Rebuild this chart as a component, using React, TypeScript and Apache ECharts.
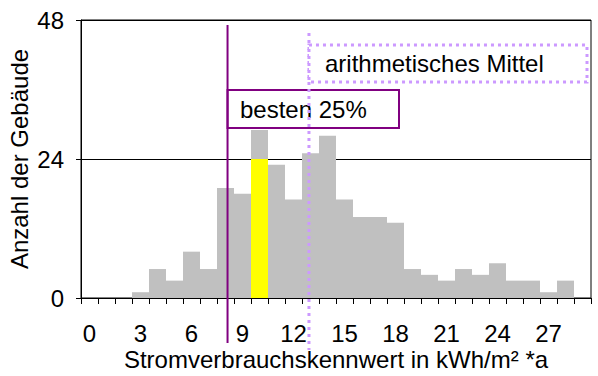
import React, { useEffect, useRef } from "react";
import * as echarts from "echarts";

const categories = ["0","1","2","3","4","5","6","7","8","9","10","11","12","13","14","15","16","17","18","19","20","21","22","23","24","25","26","27","28","29"];
const buildingCounts = [0,0,0,1,5,3,8,5,19,18,29,23,17,25,28,17,14,14,13,5,4,3,5,4,6,3,3,1,3,0];
const highlightCounts = [null,null,null,null,null,null,null,null,null,null,24,null,null,null,null,null,null,null,null,null,null,null,null,null,null,null,null,null,null,null];
const yTicks = [0, 24, 48];
const best25Limit = 8.12;
const meanValue = 12.91;
const best25Label = "besten 25%";
const meanLabel = "arithmetisches Mittel";
const xAxisTitle = "Stromverbrauchskennwert in kWh/m² *a";
const yAxisTitle = "Anzahl der Gebäude";

const FONT = "'Liberation Sans', Arial, Helvetica, sans-serif";
const PURPLE = "#800080";
const LAVENDER = "#CC99FF";
const FS = 24;

export default function App() {
  const ref = useRef<HTMLDivElement>(null);
  useEffect(() => {
    if (!ref.current) return;
    const chart = echarts.init(ref.current, null, { renderer: "svg" });
    chart.setOption({
      animation: false,
      backgroundColor: "#fff",
      textStyle: { fontFamily: FONT },
      grid: {
        left: 81, right: 7, top: 20, bottom: 78,
        containLabel: false,
        outerBoundsMode: "none",
        show: true, borderColor: "#000", borderWidth: 1, backgroundColor: "transparent",
      },
      xAxis: [
        {
          type: "category",
          data: categories,
          boundaryGap: true,
          axisLine: { onZero: false, lineStyle: { color: "#000", width: 1 } },
          axisTick: { show: true, interval: 0, length: 6, inside: false, lineStyle: { color: "#000" } },
          axisLabel: { interval: 2, color: "#000", fontSize: FS, fontFamily: FONT, margin: 26, lineHeight: 18 },
          name: xAxisTitle,
          nameLocation: "middle",
          nameGap: 52,
          nameMoveOverlap: false,
          nameTextStyle: { color: "#000", fontSize: FS, fontFamily: FONT, lineHeight: 18, verticalAlign: "top" },
        },
        { type: "value", min: -0.5, max: 29.5, show: false },
      ],
      yAxis: {
        type: "value",
        min: yTicks[0],
        max: yTicks[yTicks.length - 1],
        interval: 24,
        axisLine: { show: true, onZero: false, lineStyle: { color: "#000" } },
        axisTick: { show: true, length: 5, lineStyle: { color: "#000" } },
        axisLabel: { color: "#000", fontSize: FS, fontFamily: FONT, margin: 17 },
        splitLine: { show: true, lineStyle: { color: "#000", width: 1 } },
        name: yAxisTitle,
        nameLocation: "middle",
        nameGap: 50,
        nameMoveOverlap: false,
        nameTextStyle: { color: "#000", fontSize: FS, fontFamily: FONT },
      },
      series: [
        {
          type: "bar",
          data: buildingCounts,
          barCategoryGap: "0%",
          barGap: "-100%",
          itemStyle: { color: "#C0C0C0" },
          silent: true,
        },
        {
          type: "bar",
          data: highlightCounts,
          barCategoryGap: "0%",
          barGap: "-100%",
          itemStyle: { color: "#FFFF00" },
          silent: true,
        },
      ],
    });

    const xBest = chart.convertToPixel({ xAxisIndex: 1 }, best25Limit) as number;
    const xMean = chart.convertToPixel({ xAxisIndex: 1 }, meanValue) as number;

    chart.setOption({
      graphic: [
        {
          type: "rect",
          shape: { x: xBest, y: 90, width: 399 - xBest, height: 38 },
          style: { fill: "#fff", stroke: PURPLE, lineWidth: 2 },
          z: 10,
        },
        {
          type: "text",
          x: 240,
          y: 109,
          style: { text: best25Label, fill: "#000", font: `${FS}px ${FONT}`, textVerticalAlign: "middle", verticalAlign: "middle" },
          z: 11,
        },
        {
          type: "line",
          shape: { x1: xMean, y1: 33, x2: xMean, y2: 350 },
          style: { stroke: LAVENDER, lineWidth: 3, lineDash: [3, 4] },
          z: 12,
        },
        {
          type: "rect",
          shape: { x: xMean, y: 45, width: 587 - xMean, height: 37 },
          style: { fill: "#fff", stroke: LAVENDER, lineWidth: 3, lineDash: [3, 4] },
          z: 12,
        },
        {
          type: "text",
          x: 325,
          y: 63,
          style: { text: meanLabel, fill: "#000", font: `${FS}px ${FONT}`, textVerticalAlign: "middle", verticalAlign: "middle" },
          z: 13,
        },
        {
          type: "line",
          shape: { x1: xBest, y1: 25, x2: xBest, y2: 343 },
          style: { stroke: PURPLE, lineWidth: 2 },
          z: 14,
        },
      ],
    });

    return () => chart.dispose();
  }, []);
  return <div ref={ref} style={{ width: 598, height: 376, position: "absolute", left: 0, top: 0 }} />;
}
